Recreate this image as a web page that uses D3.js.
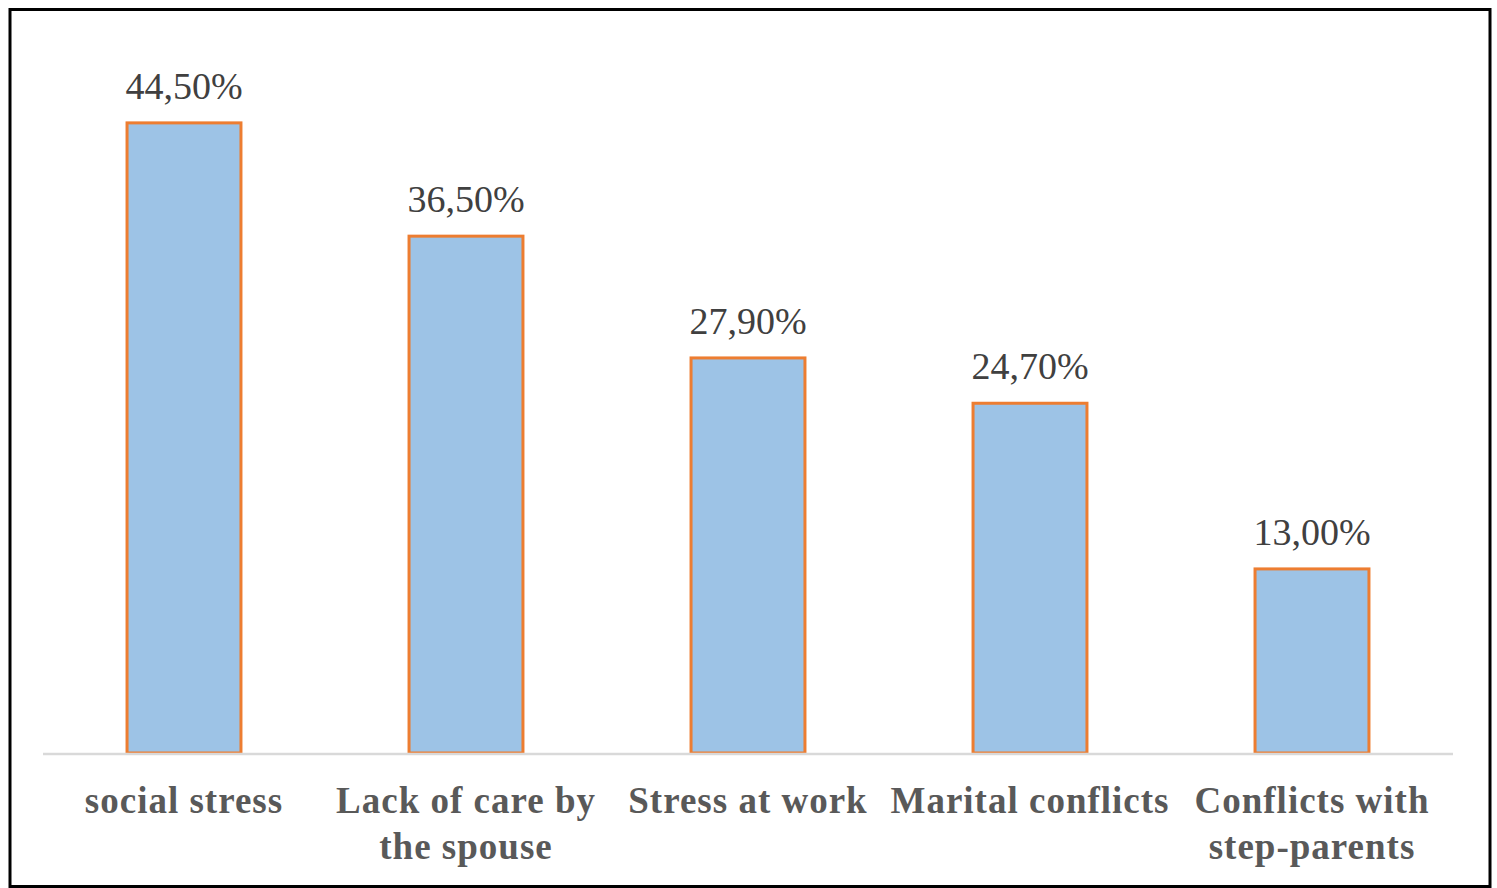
<!DOCTYPE html>
<html>
<head>
<meta charset="utf-8">
<script src="https://cdn.jsdelivr.net/npm/d3@7"></script>
<style>
  body { margin: 0; background: #fff; }
  svg { display: block; }
</style>
</head>
<body>
<script>
// data
const categories = ["social stress", "Lack of care by the spouse", "Stress at work", "Marital conflicts", "Conflicts with step-parents"];
const labelLines = [["social stress"], ["Lack of care by", "the spouse"], ["Stress at work"], ["Marital conflicts"], ["Conflicts with", "step-parents"]];
const values = [44.5, 36.5, 27.9, 24.7, 13.0];
const valueLabels = ["44,50%", "36,50%", "27,90%", "24,70%", "13,00%"];

const width = 1497;
const height = 888;
const plot = { left: 43, right: 1453, top: 45, bottom: 753 };

const svg = d3.select("body").append("svg")
  .attr("width", width)
  .attr("height", height);

svg.append("rect")
  .attr("width", width)
  .attr("height", height)
  .attr("fill", "#fff");

// frame around the chart
svg.append("rect")
  .attr("x", 10)
  .attr("y", 9.5)
  .attr("width", 1480)
  .attr("height", 877)
  .attr("fill", "none")
  .attr("stroke", "#000")
  .attr("stroke-width", 3);

const x = d3.scaleBand()
  .domain(categories)
  .range([plot.left, plot.right])
  .paddingInner(0.596)
  .paddingOuter(0.298);

const y = d3.scaleLinear()
  .domain([0, 50])
  .range([plot.bottom, plot.top]);

// bars
svg.append("g")
  .selectAll("rect")
  .data(values)
  .enter().append("rect")
    .attr("x", (d, i) => x(categories[i]))
    .attr("y", d => y(d))
    .attr("width", x.bandwidth())
    .attr("height", d => y(0) - y(d))
    .attr("fill", "#9dc3e6")
    .attr("stroke", "#ed7d31")
    .attr("stroke-width", 3);

// baseline
svg.append("line")
  .attr("x1", plot.left)
  .attr("x2", plot.right)
  .attr("y1", y(0) + 1)
  .attr("y2", y(0) + 1)
  .attr("stroke", "#d9d9d9")
  .attr("stroke-width", 2.5);

// value labels
svg.append("g")
  .selectAll("text")
  .data(values)
  .enter().append("text")
    .attr("x", (d, i) => x(categories[i]) + x.bandwidth() / 2)
    .attr("y", d => y(d) - 24)
    .attr("text-anchor", "middle")
    .attr("font-family", "'Liberation Serif', 'Times New Roman', serif")
    .attr("font-size", 38)
    .attr("fill", "#404040")
    .text((d, i) => valueLabels[i]);

// category labels
const cat = svg.append("g")
  .selectAll("text")
  .data(categories)
  .enter().append("text")
    .attr("text-anchor", "middle")
    .attr("font-family", "'Liberation Serif', 'Times New Roman', serif")
    .attr("font-weight", "bold")
    .attr("font-size", 37)
    .attr("letter-spacing", 1)
    .attr("fill", "#595959");

cat.selectAll("tspan")
  .data((d, i) => labelLines[i].map(t => ({ t, c: d })))
  .enter().append("tspan")
    .attr("x", d => x(d.c) + x.bandwidth() / 2)
    .attr("y", (d, j) => 813 + j * 46)
    .text(d => d.t);
</script>
</body>
</html>
